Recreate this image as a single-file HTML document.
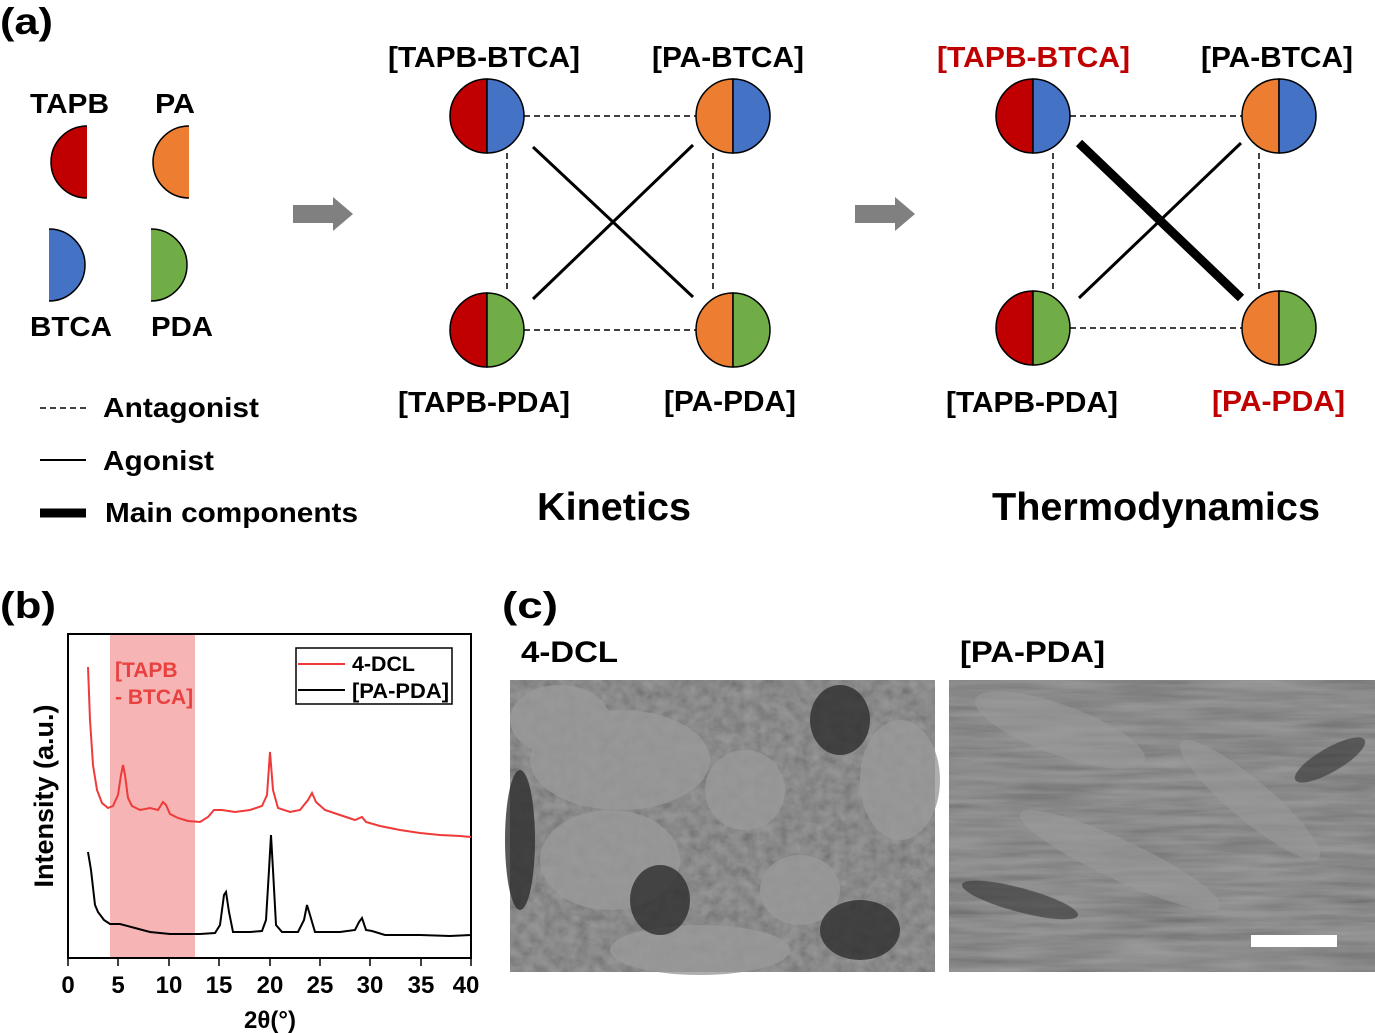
<!DOCTYPE html>
<html><head><meta charset="utf-8"><style>
html,body{margin:0;padding:0;background:#fff;}
svg{display:block;font-family:"Liberation Sans",Arial,sans-serif;font-weight:bold;}
</style></head><body>
<svg width="1375" height="1033" viewBox="0 0 1375 1033" xmlns="http://www.w3.org/2000/svg">
<defs>
<filter id="n1" x="0" y="0" width="100%" height="100%">
<feTurbulence type="fractalNoise" baseFrequency="0.09" numOctaves="3" seed="3"/>
<feColorMatrix type="saturate" values="0"/>
<feComponentTransfer><feFuncA type="linear" slope="0" intercept="0.35"/></feComponentTransfer>
</filter>
<filter id="n2" x="0" y="0" width="100%" height="100%">
<feTurbulence type="fractalNoise" baseFrequency="0.01 0.12" numOctaves="3" seed="7"/>
<feColorMatrix type="saturate" values="0"/>
<feComponentTransfer><feFuncA type="linear" slope="0" intercept="0.4"/></feComponentTransfer>
</filter>
</defs>
<g font-size="37"><text x="0" y="34" textLength="53" lengthAdjust="spacingAndGlyphs">(a)</text><text x="0" y="618" textLength="56" lengthAdjust="spacingAndGlyphs">(b)</text><text x="502" y="618" textLength="56" lengthAdjust="spacingAndGlyphs">(c)</text></g>

<g stroke="none">
<path d="M87,126 A36,36 0 0 0 87,198 Z" fill="#c00000"/>
<path d="M189,126 A36,36 0 0 0 189,198 Z" fill="#ed7d31"/>
<path d="M49,229 A36,36 0 0 1 49,301 Z" fill="#4472c4"/>
<path d="M151,229 A36,36 0 0 1 151,301 Z" fill="#70ad47"/>
</g>
<g stroke="#000" stroke-width="1.5" fill="none">
<path d="M87,126 A36,36 0 0 0 87,198"/>
<path d="M189,126 A36,36 0 0 0 189,198"/>
<path d="M49,229 A36,36 0 0 1 49,301"/>
<path d="M151,229 A36,36 0 0 1 151,301"/>
</g>
<g font-size="28">
<text x="30" y="113" textLength="79" lengthAdjust="spacingAndGlyphs">TAPB</text><text x="155" y="113" textLength="40" lengthAdjust="spacingAndGlyphs">PA</text>
<text x="30" y="336" textLength="82" lengthAdjust="spacingAndGlyphs">BTCA</text><text x="151" y="336" textLength="62" lengthAdjust="spacingAndGlyphs">PDA</text>
<text x="103" y="417" textLength="156" lengthAdjust="spacingAndGlyphs">Antagonist</text><text x="103" y="470" textLength="111" lengthAdjust="spacingAndGlyphs">Agonist</text><text x="105" y="522" textLength="253" lengthAdjust="spacingAndGlyphs">Main components</text>
</g>
<line x1="40" y1="408" x2="86" y2="408" stroke="#000" stroke-width="1.5" stroke-dasharray="6,4"/>
<line x1="40" y1="460" x2="86" y2="460" stroke="#000" stroke-width="2"/>
<line x1="40" y1="513" x2="86" y2="513" stroke="#000" stroke-width="9"/>

<path d="M293,205 H333 V197 L353,214 L333,231 V223 H293 Z" fill="#808080"/>
<path d="M855,205 H895 V197 L915,214 L895,231 V223 H855 Z" fill="#808080"/>

<g stroke="#000" stroke-width="1.5" stroke-dasharray="6,4">
<line x1="524" y1="116" x2="696" y2="116"/><line x1="524" y1="330" x2="696" y2="330"/>
<line x1="507" y1="153" x2="507" y2="293"/><line x1="713" y1="153" x2="713" y2="293"/>
<line x1="1070" y1="116" x2="1242" y2="116"/><line x1="1070" y1="328" x2="1242" y2="328"/>
<line x1="1053" y1="153" x2="1053" y2="291"/><line x1="1259" y1="153" x2="1259" y2="291"/>
</g>
<g stroke="#000" stroke-width="3">
<line x1="533" y1="147" x2="693" y2="297"/><line x1="693" y1="145" x2="533" y2="299"/>
<line x1="1241" y1="143" x2="1079" y2="298"/>
</g>
<line x1="1079" y1="143" x2="1241" y2="298" stroke="#000" stroke-width="9"/>

<g stroke="#000" stroke-width="1.5">
<path d="M487,79 A37,37 0 0 0 487,153 Z" fill="#c00000"/><path d="M487,79 A37,37 0 0 1 487,153 Z" fill="#4472c4"/>
<path d="M733,79 A37,37 0 0 0 733,153 Z" fill="#ed7d31"/><path d="M733,79 A37,37 0 0 1 733,153 Z" fill="#4472c4"/>
<path d="M487,293 A37,37 0 0 0 487,367 Z" fill="#c00000"/><path d="M487,293 A37,37 0 0 1 487,367 Z" fill="#70ad47"/>
<path d="M733,293 A37,37 0 0 0 733,367 Z" fill="#ed7d31"/><path d="M733,293 A37,37 0 0 1 733,367 Z" fill="#70ad47"/>
<path d="M1033,79 A37,37 0 0 0 1033,153 Z" fill="#c00000"/><path d="M1033,79 A37,37 0 0 1 1033,153 Z" fill="#4472c4"/>
<path d="M1279,79 A37,37 0 0 0 1279,153 Z" fill="#ed7d31"/><path d="M1279,79 A37,37 0 0 1 1279,153 Z" fill="#4472c4"/>
<path d="M1033,291 A37,37 0 0 0 1033,365 Z" fill="#c00000"/><path d="M1033,291 A37,37 0 0 1 1033,365 Z" fill="#70ad47"/>
<path d="M1279,291 A37,37 0 0 0 1279,365 Z" fill="#ed7d31"/><path d="M1279,291 A37,37 0 0 1 1279,365 Z" fill="#70ad47"/>
</g>
<g font-size="29">
<text x="388" y="67" textLength="192" lengthAdjust="spacingAndGlyphs">[TAPB-BTCA]</text><text x="652" y="67" textLength="152" lengthAdjust="spacingAndGlyphs">[PA-BTCA]</text>
<text x="398" y="412" textLength="172" lengthAdjust="spacingAndGlyphs">[TAPB-PDA]</text><text x="664" y="411" textLength="132" lengthAdjust="spacingAndGlyphs">[PA-PDA]</text>
<text x="937" y="67" fill="#c00000" textLength="193" lengthAdjust="spacingAndGlyphs">[TAPB-BTCA]</text><text x="1201" y="67" textLength="152" lengthAdjust="spacingAndGlyphs">[PA-BTCA]</text>
<text x="946" y="412" textLength="172" lengthAdjust="spacingAndGlyphs">[TAPB-PDA]</text><text x="1212" y="411" fill="#c00000" textLength="133" lengthAdjust="spacingAndGlyphs">[PA-PDA]</text>
</g>
<g font-size="39"><text x="537" y="520" textLength="154" lengthAdjust="spacingAndGlyphs">Kinetics</text><text x="992" y="520" textLength="328" lengthAdjust="spacingAndGlyphs">Thermodynamics</text></g>

<rect x="110" y="634" width="85" height="324" fill="#f7b4b4"/>
<rect x="68" y="634" width="403" height="324" fill="none" stroke="#000" stroke-width="2"/>
<g stroke="#000" stroke-width="1.5">
<line x1="68" y1="958" x2="68" y2="966"/><line x1="118" y1="958" x2="118" y2="966"/><line x1="169" y1="958" x2="169" y2="966"/><line x1="219" y1="958" x2="219" y2="966"/><line x1="270" y1="958" x2="270" y2="966"/><line x1="320" y1="958" x2="320" y2="966"/><line x1="370" y1="958" x2="370" y2="966"/><line x1="421" y1="958" x2="421" y2="966"/><line x1="471" y1="958" x2="471" y2="966"/>
</g>
<g font-size="24" text-anchor="middle">
<text x="68" y="993">0</text><text x="118" y="993">5</text><text x="169" y="993">10</text><text x="219" y="993">15</text><text x="270" y="993">20</text><text x="320" y="993">25</text><text x="370" y="993">30</text><text x="421" y="993">35</text><text x="466" y="993">40</text>
<text x="270" y="1028">2θ(°)</text>
</g>
<text transform="translate(53,796) rotate(-90)" font-size="27" text-anchor="middle" textLength="183" lengthAdjust="spacingAndGlyphs">Intensity (a.u.)</text>
<text x="115" y="677" font-size="21" fill="#e8413f">[TAPB</text>
<text x="115" y="704" font-size="21" fill="#e8413f">- BTCA]</text>
<polyline fill="none" stroke="#f03a3a" stroke-width="2" points="88,667 90,720 93,765 97,790 102,803 108,808 113,806 118,795 121,775 123,765 125,775 128,798 132,806 140,810 150,808 158,810 163,802 166,805 170,814 178,818 188,821 200,822 208,817 214,810 222,810 235,812 250,810 262,806 267,795 270,752 273,790 278,808 290,812 300,810 308,800 312,793 316,802 325,810 340,815 355,820 362,817 366,822 380,826 400,830 420,833 440,835 460,836 471,837"/>
<polyline fill="none" stroke="#000" stroke-width="2" points="88,852 91,870 95,905 98,912 104,920 110,924 120,924 135,928 150,932 170,934 200,934 215,933 220,925 224,895 226,892 229,912 233,932 250,932 262,931 266,920 269,870 271,835 273,870 276,925 282,932 298,932 304,920 307,905 310,915 315,932 340,932 355,930 359,922 362,918 366,930 372,931 385,935 420,935 450,936 471,935"/>
<rect x="296" y="648" width="156" height="56" fill="#fff" stroke="#000" stroke-width="1.5"/>
<line x1="298" y1="664" x2="345" y2="664" stroke="#f03a3a" stroke-width="2"/>
<line x1="298" y1="690" x2="345" y2="690" stroke="#000" stroke-width="2"/>
<g font-size="21"><text x="352" y="671" textLength="63" lengthAdjust="spacingAndGlyphs">4-DCL</text><text x="352" y="698" textLength="97" lengthAdjust="spacingAndGlyphs">[PA-PDA]</text></g>

<g font-size="30"><text x="521" y="662" textLength="97" lengthAdjust="spacingAndGlyphs">4-DCL</text><text x="960" y="662" textLength="145" lengthAdjust="spacingAndGlyphs">[PA-PDA]</text></g>
<rect x="510" y="680" width="425" height="292" fill="#6e6e6e"/>
<rect x="510" y="680" width="425" height="292" filter="url(#n1)"/>
<g fill="#9a9a9a" opacity="0.8">
<ellipse cx="620" cy="760" rx="90" ry="50"/><ellipse cx="745" cy="790" rx="40" ry="40"/><ellipse cx="610" cy="860" rx="70" ry="50"/>
<ellipse cx="800" cy="890" rx="40" ry="35"/><ellipse cx="900" cy="780" rx="40" ry="60"/><ellipse cx="560" cy="720" rx="50" ry="35"/>
<ellipse cx="700" cy="950" rx="90" ry="25"/>
</g>
<g fill="#2e2e2e" opacity="0.8">
<ellipse cx="660" cy="900" rx="30" ry="35"/><ellipse cx="860" cy="930" rx="40" ry="30"/><ellipse cx="840" cy="720" rx="30" ry="35"/><ellipse cx="520" cy="840" rx="15" ry="70"/>
</g>
<rect x="949" y="680" width="426" height="292" fill="#6a6a6a"/>
<rect x="949" y="680" width="426" height="292" filter="url(#n2)"/>
<g fill="#9a9a9a" opacity="0.6">
<ellipse cx="1060" cy="730" rx="90" ry="25" transform="rotate(20 1060 730)"/>
<ellipse cx="1120" cy="860" rx="110" ry="20" transform="rotate(25 1120 860)"/>
<ellipse cx="1250" cy="800" rx="90" ry="20" transform="rotate(40 1250 800)"/>
</g>
<g fill="#333" opacity="0.6">
<ellipse cx="1020" cy="900" rx="60" ry="12" transform="rotate(15 1020 900)"/>
<ellipse cx="1330" cy="760" rx="40" ry="12" transform="rotate(-30 1330 760)"/>
</g>
<rect x="1251" y="935" width="86" height="12" fill="#fff"/>
</svg>
</body></html>
